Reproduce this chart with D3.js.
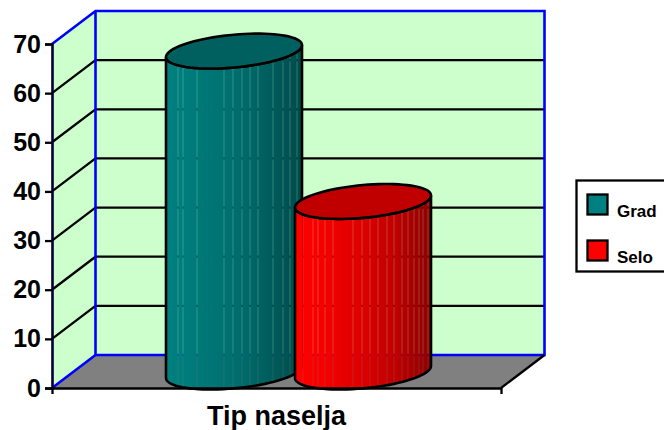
<!DOCTYPE html>
<html>
<head>
<meta charset="utf-8">
<script src="https://cdn.jsdelivr.net/npm/d3@7"></script>
<style>
	html, body { margin: 0; padding: 0; background: #fff; overflow: hidden; }
	svg { display: block; }
	text { font-family: "Liberation Sans", Arial, sans-serif; font-weight: bold; fill: #000; }
</style>
</head>
<body>
<div id="chart"></div>
<script>
////////////////////////////////////////////////////
var categories = ["Tip naselja"];
var seriesNames = ["Grad", "Selo"];
var seriesValues = [65.3, 34.7];
var yTicks = [0, 10, 20, 30, 40, 50, 60, 70];

/////////// LAYOUT
var totalW = 664, totalH = 430;
var x0 = 52, x1 = 501, y0 = 388, y70 = 44;
var depthX = 43.5, depthY = -33;
var cylRx = 68, cylTilt = 6, cylRy = 16.4;
var lineW = 2.6;

var yScale = d3.scaleLinear().domain([0, 70]).range([y0, y70]);
var xScale = d3.scaleBand().domain(categories).range([x0, x1]);
var serieScale = d3.scalePoint().domain(seriesNames).range([234, 363]);

var colors = {
	Grad: {legend: "#008080", top: "#006060", stops: ["#008080", "#007C7C", "#006E6E", "#005E5E", "#004A4A"]},
	Selo: {legend: "#FF0000", top: "#C00000", stops: ["#FF0000", "#F80000", "#DC0000", "#BC0000", "#8C0000"]}
};
var seams = {
	Grad: [12, 17, 31, 58, 67, 76, 84, 92, 107, 117, 124, 131],
	Selo: [8, 18, 23, 30, 38, 58, 67, 75, 83, 92, 99, 107, 113, 119, 124, 128, 133]
};

var chart = d3.select("#chart").append("svg")
	.attr("width", totalW)
	.attr("height", totalH);
var defs = chart.append("defs");
var pathLine = d3.line();

/////////// WALLS AND FLOOR
var backX0 = x0 + depthX, backX1 = x1 + depthX;
chart.append("path")
	.attr("fill", "#CCFFCC")
	.attr("d", pathLine([[x0, y0], [x0, y70], [backX0, y70 + depthY], [backX1, y70 + depthY], [backX1, y0 + depthY], [backX0, y0 + depthY]]) + "Z");
chart.append("path")
	.attr("fill", "#808080")
	.attr("d", pathLine([[x0, y0], [backX0, y0 + depthY], [backX1, y0 + depthY], [x1, y0]]) + "Z");

/////////// GRID
var gridTicks = yTicks.filter(function(d) { return d > 0 && d < 70; });
chart.selectAll("path.grid")
	.data(gridTicks)
	.enter().append("path")
	.attr("class", "grid")
	.attr("fill", "none")
	.attr("stroke", "#000")
	.attr("stroke-width", lineW - 0.3)
	.attr("d", function(d) {
		var y = yScale(d);
		return pathLine([[x0, y], [backX0, y + depthY], [backX1, y + depthY]]);
	});

/////////// WALL EDGES
chart.append("path")
	.attr("fill", "none")
	.attr("stroke", "#0000FF")
	.attr("stroke-width", lineW)
	.attr("d", pathLine([[x0, y70], [backX0, y70 + depthY], [backX1, y70 + depthY], [backX1, y0 + depthY], [backX0, y0 + depthY], [x0, y0]])
		+ "M" + backX0 + "," + (y70 + depthY) + "L" + backX0 + "," + (y0 + depthY));
chart.append("path")
	.attr("fill", "none")
	.attr("stroke", "#000")
	.attr("stroke-width", lineW - 0.3)
	.attr("d", pathLine([[x1, y0], [backX1, y0 + depthY]]));

/////////// CYLINDERS
function ellipsePoint(cx, cy, t) {
	return [cx + cylRx * Math.cos(t), cy - cylTilt * Math.cos(t) + cylRy * Math.sin(t)];
}
function frontHalf(cx, cy, reverse) {
	return d3.range(0, 41).map(function(i) {
		var t = Math.PI * (reverse ? i / 40 : 1 - i / 40);
		return ellipsePoint(cx, cy, t);
	});
}
function ellipsePath(cx, cy) {
	return pathLine(d3.range(0, 81).map(function(i) {
		return ellipsePoint(cx, cy, 2 * Math.PI * i / 80);
	})) + "Z";
}
var baseY = yScale(0) - 16;

seriesNames.forEach(function(name, i) {
	var cx = serieScale(name);
	var topY = baseY - (yScale(0) - yScale(seriesValues[i]));
	var body = pathLine(frontHalf(cx, baseY, false).concat(frontHalf(cx, topY, true))) + "Z";

	var grad = defs.append("linearGradient")
		.attr("id", "grad" + i)
		.attr("gradientUnits", "userSpaceOnUse")
		.attr("x1", cx - cylRx).attr("x2", cx + cylRx)
		.attr("y1", 0).attr("y2", 0);
	grad.selectAll("stop")
		.data(colors[name].stops)
		.enter().append("stop")
		.attr("offset", function(d, k) { return [0, 0.15, 0.5, 0.75, 1][k]; })
		.attr("stop-color", function(d) { return d; });

	defs.append("clipPath").attr("id", "clip" + i).append("path").attr("d", body);

	// bands with thin gaps, the wall shows through a little as in the picture
	var edges = [0].concat(seams[name]).concat([cylRx * 2]);
	var g = chart.append("g").attr("clip-path", "url(#clip" + i + ")");
	g.selectAll("rect")
		.data(d3.pairs(edges))
		.enter().append("rect")
		.attr("x", function(d) { return cx - cylRx + d[0] + 0.12; })
		.attr("width", function(d) { return d[1] - d[0] - 0.24; })
		.attr("y", topY - 30)
		.attr("height", baseY - topY + 60)
		.attr("fill", "url(#grad" + i + ")");

	chart.append("path")
		.attr("d", body)
		.attr("fill", "none")
		.attr("stroke", "#000")
		.attr("stroke-width", lineW);
	chart.append("path")
		.attr("d", ellipsePath(cx, topY))
		.attr("fill", colors[name].top)
		.attr("stroke", "#000")
		.attr("stroke-width", lineW);
});

/////////// AXES
var yAxis = chart.append("g")
	.attr("transform", "translate(" + x0 + ",0)")
	.call(d3.axisLeft(yScale).tickValues(yTicks).tickSize(7).tickPadding(4).tickFormat(d3.format("d")));
yAxis.select(".domain").attr("stroke", "#000033").attr("stroke-width", lineW);
yAxis.selectAll(".tick line").attr("stroke", "#000").attr("stroke-width", lineW - 0.3);
yAxis.selectAll("text").style("font-size", "25px");

var xAxis = chart.append("g")
	.attr("transform", "translate(0," + y0 + ")")
	.call(d3.axisBottom(xScale).tickSizeInner(0).tickSizeOuter(6).tickPadding(18));
xAxis.select(".domain").attr("stroke", "#000").attr("stroke-width", lineW - 0.3);
xAxis.selectAll("text").style("font-size", "27px");

/////////// LEGEND
var legend = chart.append("g");
legend.append("rect")
	.attr("x", 576.5).attr("y", 180.5)
	.attr("width", 100).attr("height", 91)
	.attr("fill", "#fff")
	.attr("stroke", "#000")
	.attr("stroke-width", lineW - 0.3);
var legendY = d3.scalePoint().domain(seriesNames).range([194.5, 240.5]);
legend.selectAll("rect.sw")
	.data(seriesNames)
	.enter().append("rect")
	.attr("class", "sw")
	.attr("x", 587.5)
	.attr("y", function(d) { return legendY(d); })
	.attr("width", 20).attr("height", 20)
	.attr("fill", function(d) { return colors[d].legend; })
	.attr("stroke", "#000")
	.attr("stroke-width", lineW - 0.3);
legend.selectAll("text")
	.data(seriesNames)
	.enter().append("text")
	.attr("x", 617)
	.attr("y", function(d) { return legendY(d) + 22; })
	.style("font-size", "17px")
	.text(function(d) { return d; });
////////////////////////////////////////////////////
</script>
</body>
</html>
